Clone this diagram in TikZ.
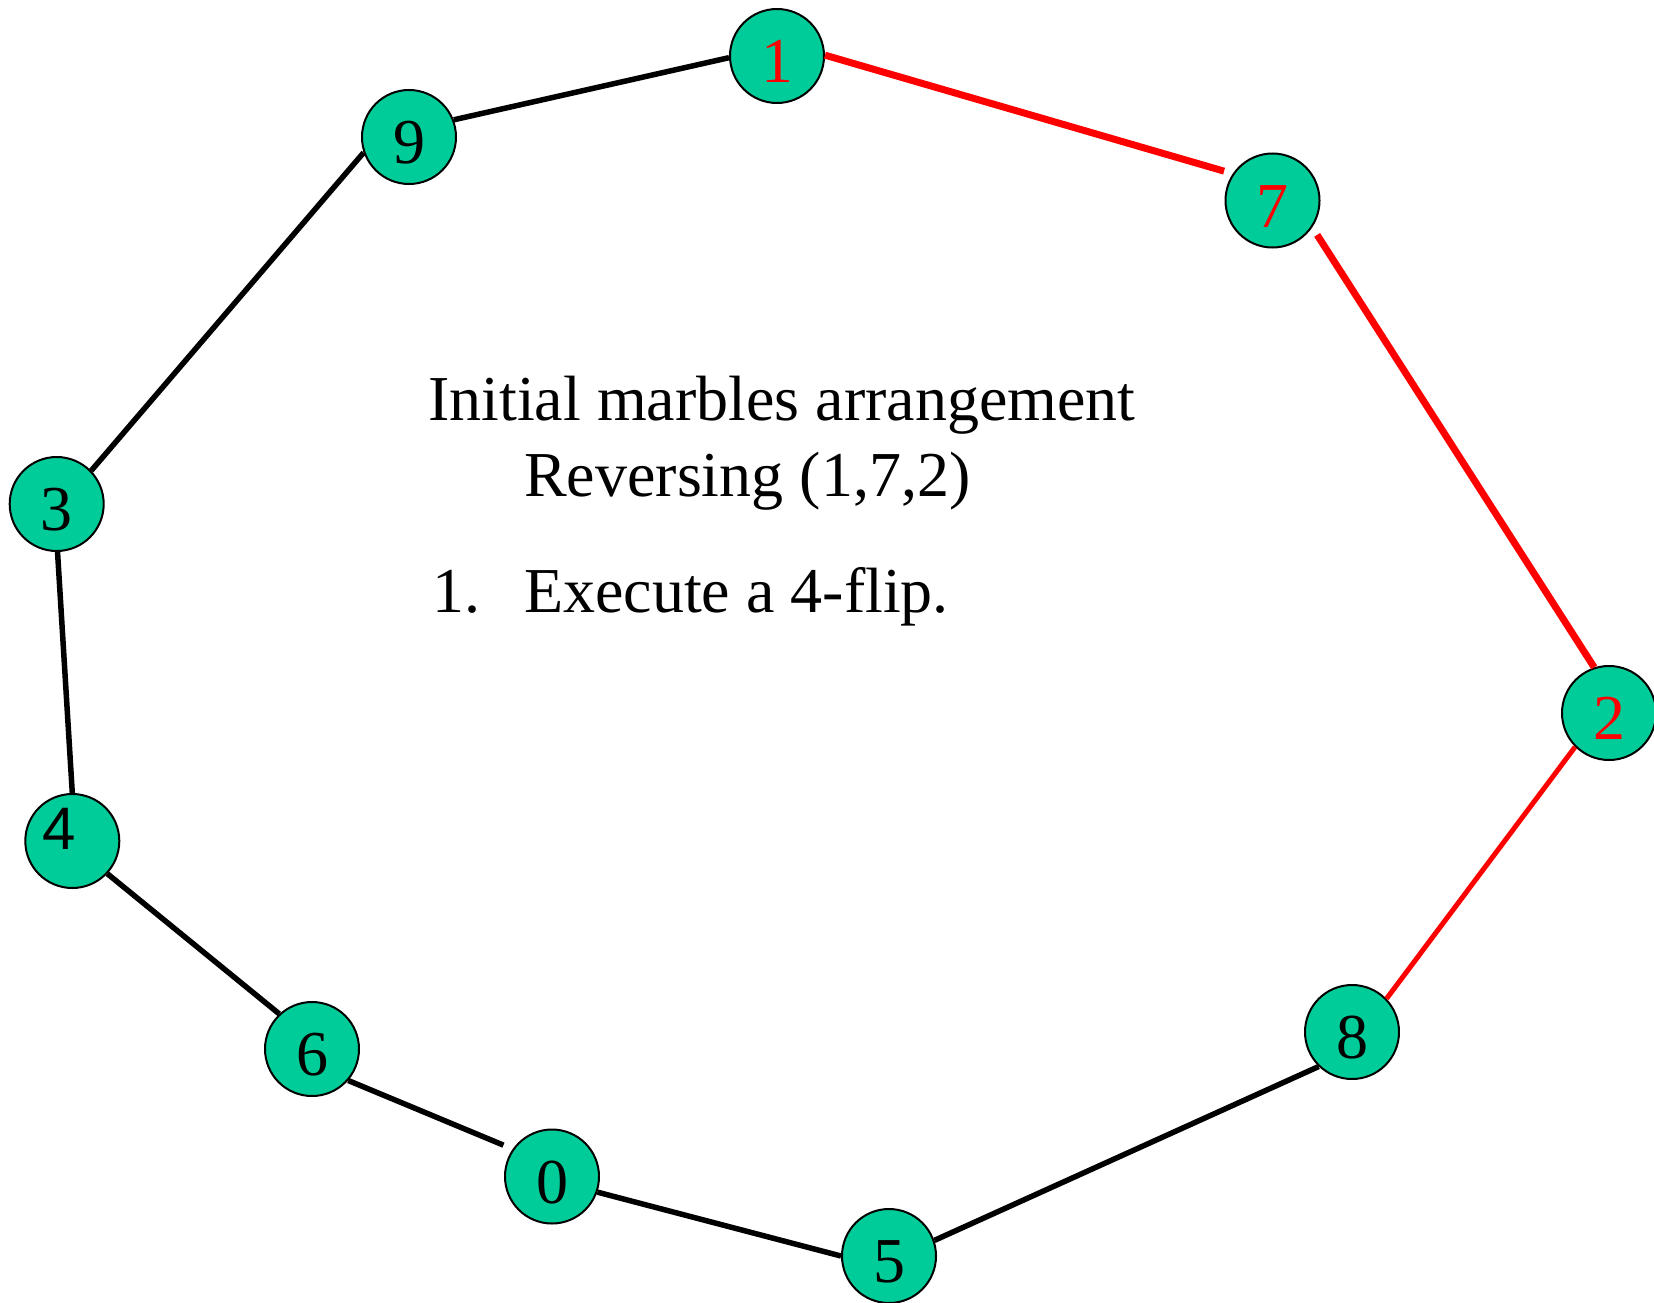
\documentclass[tikz,border=0pt]{standalone}
\usepackage{fontspec}
\setmainfont{Liberation Serif}
\newfontfamily\marblesans{Liberation Sans}
\definecolor{marblegreen}{RGB}{0,204,153}
\begin{document}
\begin{tikzpicture}[x=1pt,y=-1pt,
  marble/.style={circle, draw=black, line width=2pt, fill=marblegreen,
    minimum size=94pt, inner sep=0pt,
    font=\fontsize{64pt}{64pt}\selectfont, text height=53pt, text depth=0pt},
  hot/.style={text=red},
  link/.style={line width=5.5pt, draw=black},
  redlink/.style={line width=7pt, draw=red},
  thinred/.style={line width=5pt, draw=red},
  caption/.style={anchor=base west, inner sep=0pt,
    font=\fontsize{64pt}{77pt}\selectfont}]
\useasboundingbox (0,0) rectangle (1654,1303);
\clip (0,0) rectangle (1654,1303);

% marbles
\node[marble, hot] (n1) at (777,56) {1};
\node[marble] (n9) at (409,137) {9};
\node[marble, hot] (n7) at (1272.5,200.5) {7};
\node[marble] (n3) at (56.7,504) {3};
\node[marble, hot] (n2) at (1609,713) {2};
\node[marble, text height=43pt, text depth=26pt,
      font=\marblesans\fontsize{60pt}{60pt}\selectfont] (n4) at (72.3,841) {\kern-26pt 4};
\node[marble] (n6) at (312,1049) {6};
\node[marble] (n0) at (552,1176.5) {0};
\node[marble] (n8) at (1352,1032) {8};
\node[marble] (n5) at (889,1256) {5};

% ring of links
\draw[link] (n9.21) -- (n1.182);
\draw[redlink, shorten >=9pt] (n1.1) -- (n7.146);
\draw[redlink, shorten <=9pt] (n7.-34) -- (n2.108);
\draw[thinred] (n2.225) -- (n8.44);
\draw[link] (n8.226) -- (n5.19.5);
\draw[link] (n5.180) -- (n0.-19);
\draw[link, shorten >=10pt] (n6.-41) -- (n0.145);
\draw[link] (n6.133) -- (n4.-43.5);
\draw[link] (n4.90) -- (n3.-89);
\draw[link] (n3.44) -- (n9.199);

% caption
\node[caption] (t1) at (428,420) {Initial marbles arrangement};
\node[caption] (t2) at (524,496) {Reversing (1,7,2)};
\node[caption] (t3n) at (432,612) {1.};
\node[caption] (t3) at (524,612) {Execute a 4-flip.};
\end{tikzpicture}
\end{document}
